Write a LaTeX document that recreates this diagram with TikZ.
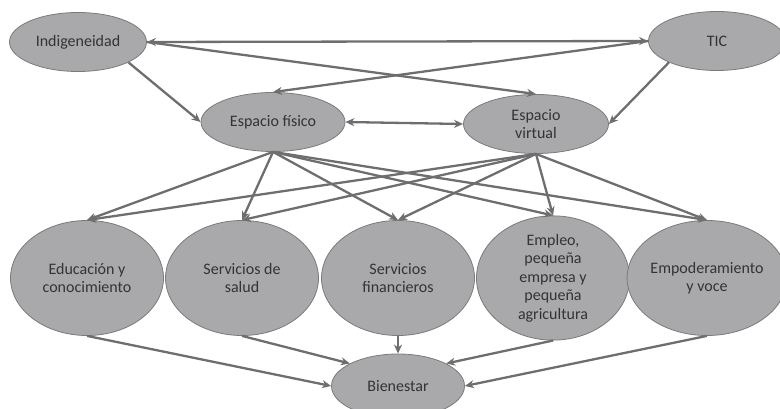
\documentclass[tikz,border=0pt]{standalone}
\usepackage{fontspec}
\setmainfont{Carlito}
\usetikzlibrary{shapes.geometric,arrows.meta}
\definecolor{nodefill}{HTML}{A9A9AB}
\definecolor{nodeline}{HTML}{7A7A7A}
\definecolor{edgecol}{HTML}{6E6E6E}
\definecolor{txtcol}{HTML}{333333}
\begin{document}
\begin{tikzpicture}[x=1pt,y=-1pt,
  ov/.style={ellipse,draw=nodeline,line width=0.8pt,fill=nodefill,inner sep=0pt,
    text=txtcol,align=center,font=\fontsize{16}{18.5}\selectfont},
  arr/.style={draw=edgecol,line width=2.3pt,-{Stealth[length=9pt,width=8pt]}},
  darr/.style={draw=edgecol,line width=2.3pt,{Stealth[length=9pt,width=8pt]}-{Stealth[length=9pt,width=8pt]}}]
\useasboundingbox (0,0) rectangle (780,409);
\begin{scope}
\clip (0,0) rectangle (780,409);
\node[ov,minimum width=137pt,minimum height=59pt] (ind) at (78,42) {Indigeneidad};
\node[ov,minimum width=137pt,minimum height=59pt] (tic) at (717,41) {TIC};
\node[ov,minimum width=144pt,minimum height=59pt] (fis) at (273,122) {Espacio físico};
\node[ov,minimum width=145pt,minimum height=59pt] (vir) at (536,124) {Espacio\\virtual};
\node[ov,minimum width=153pt,minimum height=115pt] (edu) at (87,278) {Educación y\\conocimiento};
\node[ov,minimum width=153pt,minimum height=115pt] (sal) at (242,278) {Servicios de\\salud};
\node[ov,minimum width=153pt,minimum height=115pt] (fin) at (398,278) {Servicios\\financieros};
\node[ov,minimum width=153pt,minimum height=115pt] (emp) at (553,278) {Empleo,\\pequeña\\empresa y\\pequeña\\agricultura};
\node[ov,minimum width=153pt,minimum height=115pt] (pow) at (707,278) {Empoderamiento\\y voce};
\node[ov,minimum width=133pt,minimum height=64pt] (bie) at (398,386) {Bienestar};
\end{scope}
% top level
\draw[darr] (ind.east) -- (tic.west);
\draw[arr] (ind.east) -- (vir.north);
\draw[arr] (tic.west) -- (fis.north);
\draw[arr] (ind.-22) -- (fis.west);
\draw[arr] (tic.-156) -- (vir.east);
\draw[darr] (fis.east) -- (vir.west);
% to outcomes
\foreach \t in {edu,sal,fin,emp,pow}{
  \draw[arr] (fis.south) -- (\t.north);
  \draw[arr] (vir.south) -- (\t.north);
}
% to wellbeing
\draw[arr] (edu.south) -- (bie.west);
\draw[arr] (sal.south) -- (bie.155);
\draw[arr] (fin.south) -- (bie.north);
\draw[arr] (emp.south) -- (bie.25);
\draw[arr] (pow.south) -- (bie.east);
\end{tikzpicture}
\end{document}
